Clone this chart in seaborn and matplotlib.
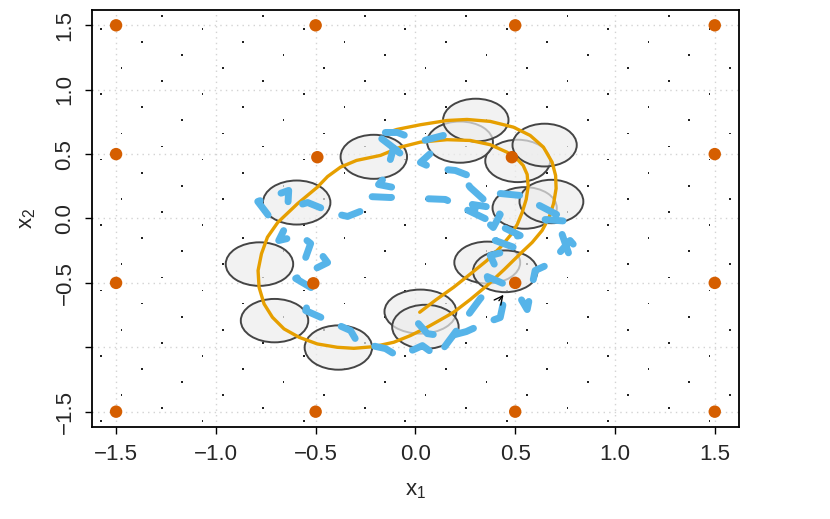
import numpy as np
import matplotlib
matplotlib.use("Agg")
import matplotlib.pyplot as plt
import seaborn as sns
from matplotlib.patches import Ellipse

# inducing points (orange dots)
pts_x = [-1.5, -0.5, 0.5, 1.5,
         -1.5, -0.4915, 0.4835, 1.5,
         -1.5, -0.5115, 0.5, 1.5,
         -1.5, -0.5, 0.5, 1.5]
pts_y = [1.5, 1.5, 1.5, 1.5,
         0.5, 0.476, 0.476, 0.5,
         -0.5, -0.503, -0.5, -0.5,
         -1.5, -1.5, -1.5, -1.5]

# mean trajectory (orange line), read along the curve from its start
mean_x = [0.0215, 0.105, 0.1915, 0.275, 0.3585, 0.425, 0.475, 0.51,
          0.535, 0.555, 0.565, 0.56, 0.54, 0.5085, 0.4585, 0.375,
          0.275, 0.1585, 0.025, -0.075, -0.175, -0.295, -0.375, -0.44,
          -0.4915, -0.5915, -0.69, -0.7415, -0.7715, -0.7885, -0.7835,
          -0.7585, -0.7165, -0.6585, -0.5835, -0.4915, -0.3915, -0.3085,
          -0.2085, -0.1085, -0.025, 0.0585, 0.125, 0.1915, 0.275, 0.3585,
          0.445, 0.525, 0.585, 0.635, 0.67, 0.6925, 0.705, 0.7025, 0.685,
          0.6415, 0.575, 0.4915, 0.375, 0.2585, 0.1585, 0.025, -0.0915, -0.13]
mean_y = [-0.728, -0.629, -0.534, -0.431, -0.326, -0.225, -0.132, -0.047,
          0.047, 0.148, 0.249, 0.342, 0.412, 0.464, 0.515, 0.573,
          0.606, 0.612, 0.593, 0.554, 0.490, 0.451, 0.399, 0.326,
          0.243, 0.114, -0.031, -0.145, -0.274, -0.404, -0.534,
          -0.663, -0.767, -0.857, -0.922, -0.974, -1.0, -1.008,
          -0.995, -0.961, -0.909, -0.845, -0.787, -0.728, -0.629, -0.521,
          -0.396, -0.274, -0.186, -0.093, 0.008, 0.117, 0.233, 0.334, 0.437,
          0.554, 0.645, 0.709, 0.754, 0.769, 0.761, 0.728, 0.692, 0.673]

# sampled trajectory (blue dashed)
samp_x = [0.015, 0.06, 0.16, 0.255, 0.355, 0.425, 0.44, 0.525, 0.56, 0.60, 0.675,
          0.775, 0.81, 0.775, 0.725, 0.65, 0.775, 0.525, 0.425, 0.385, 0.285, 0.315,
          0.39, 0.425, 0.275, 0.25, 0.29, 0.20, 0.09, 0.025, 0.075, 0.14, 0.025,
          -0.09, -0.21, -0.04, -0.11, -0.15, -0.185, -0.11, -0.075, -0.125, -0.24,
          -0.265, -0.34, -0.405, -0.54, -0.64, -0.635, -0.79, -0.725, -0.66, -0.685,
          -0.575, -0.525, -0.55, -0.485, -0.44, -0.60, -0.515, -0.55, -0.46, -0.325,
          -0.29, -0.15, -0.085, 0.035, 0.11, 0.325, 0.375, 0.36, 0.44, 0.375, 0.51,
          0.40, 0.525, 0.15, 0.035]
samp_y = [-0.816, -0.894, -0.917, -0.878, -0.808, -0.769, -0.660, -0.614, -0.707,
          -0.404, -0.350, -0.171, -0.233, -0.303, -0.078, -0.008, -0.023, 0.179,
          0.194, 0.085, 0.109, 0.039, -0.070, 0.031, 0.241, 0.295, 0.319, 0.373,
          0.389, 0.435, 0.505, 0.645, 0.598, 0.668, 0.668, 0.466, 0.544, 0.326,
          0.264, 0.241, 0.171, 0.163, 0.171, 0.062, 0.016, 0.039, 0.124, 0.078,
          0.218, 0.132, 0.0, -0.093, -0.171, -0.132, -0.194, -0.303, -0.249, -0.342,
          -0.466, -0.544, -0.715, -0.777, -0.870, -0.963, -1.010, -1.072, -0.987,
          -1.072, -0.622, -0.536, -0.451, -0.505, -0.287, -0.233, -0.171, -0.132,
          0.148, 0.155]

# uncertainty ellipses along the trajectory
ell_x = [0.025, 0.36, 0.5475, 0.5125, 0.2235, -0.2085, -0.595, -0.7815, -0.706,
         -0.386, 0.05, 0.45, 0.6815, 0.6475, 0.3025]
ell_y = [-0.723, -0.342, 0.082, 0.447, 0.593, 0.479, 0.124, -0.354, -0.793,
         -1.002, -0.841, -0.410, 0.132, 0.570, 0.764]
ell_w = [0.36, 0.33, 0.322, 0.325, 0.33, 0.333, 0.338, 0.338, 0.338, 0.338,
         0.333, 0.323, 0.32, 0.322, 0.328]
ell_h = [0.342, 0.325, 0.323, 0.329, 0.32, 0.342, 0.342, 0.338, 0.337, 0.344,
         0.342, 0.324, 0.337, 0.332, 0.332]

# background lattice of small dots
lat_vals = np.linspace(-1.575, 1.575, 32)
ii, jj = np.meshgrid(np.arange(32), np.arange(32))
keep = (ii + 2 * jj) % 5 == 0
lat_x = lat_vals[ii[keep]]
lat_y = lat_vals[jj[keep]]

ticks = [-1.5, -1.0, -0.5, 0.0, 0.5, 1.0, 1.5]
xtick_labels = ["\u22121.5", "\u22121.0", "\u22120.5", "0.0", "0.5", "1.0", "1.5"]
ytick_labels = ["\u22121.5", "", "\u22120.5", "0.0", "0.5", "1.0", "1.5"]

sns.set_theme(style="white")
plt.rcParams['font.family'] = ['Liberation Sans', 'DejaVu Sans']
plt.rcParams['mathtext.fontset'] = 'custom'
plt.rcParams['mathtext.rm'] = 'Liberation Sans'

fig = plt.figure(figsize=(8.3, 5.19), dpi=100)
ax = fig.add_axes([0.111, 0.177, 0.779, 0.804])

sns.scatterplot(x=lat_x, y=lat_y, color='#222222', s=1.6, marker='s',
                edgecolor='none', linewidth=0, zorder=1, ax=ax)

for cx, cy, w, h in zip(ell_x, ell_y, ell_w, ell_h):
    ax.add_patch(Ellipse((cx, cy), w, h, facecolor=(0.93, 0.93, 0.93, 0.7),
                         edgecolor='#454545', lw=1.4, zorder=2))

sns.lineplot(x=mean_x, y=mean_y, sort=False, estimator=None, color='#E69F00',
             lw=2.4, solid_joinstyle='round', zorder=3, ax=ax)
sns.lineplot(x=samp_x, y=samp_y, sort=False, estimator=None, color='#56B4E9',
             lw=5, linestyle=(0, (2.8, 3.2)), dash_capstyle='round',
             solid_capstyle='round', zorder=4, ax=ax)

ax.annotate('', xy=(0.45, -0.575), xytext=(0.41, -0.655),
            arrowprops=dict(arrowstyle='->,head_length=0.5,head_width=0.25',
                            color='black', lw=1.0), zorder=5)

sns.scatterplot(x=pts_x, y=pts_y, color='#D55E00', s=80, edgecolor='none',
                linewidth=0, zorder=6, ax=ax)

ax.set_xlim(-1.62, 1.62)
ax.set_ylim(-1.62, 1.62)
ax.set_xticks(ticks)
ax.set_yticks(ticks)
ax.set_xticklabels(xtick_labels)
ax.set_yticklabels(ytick_labels, rotation=90, va='center')
ax.tick_params(bottom=True, left=True, direction='out', length=5, width=1,
               color='black', labelsize=16, pad=7)
ax.grid(True, color='#D3D3D3', linestyle=(0, (1, 3)), lw=1)
ax.set_axisbelow(True)
for sp in ax.spines.values():
    sp.set_color('black')
    sp.set_linewidth(1.3)

ax.set_xlabel(r'$\mathregular{x_1}$', fontsize=16, labelpad=11)
ax.set_ylabel(r'$\mathregular{x_2}$', fontsize=16, labelpad=12)

fig.savefig('out.png', dpi=100)
